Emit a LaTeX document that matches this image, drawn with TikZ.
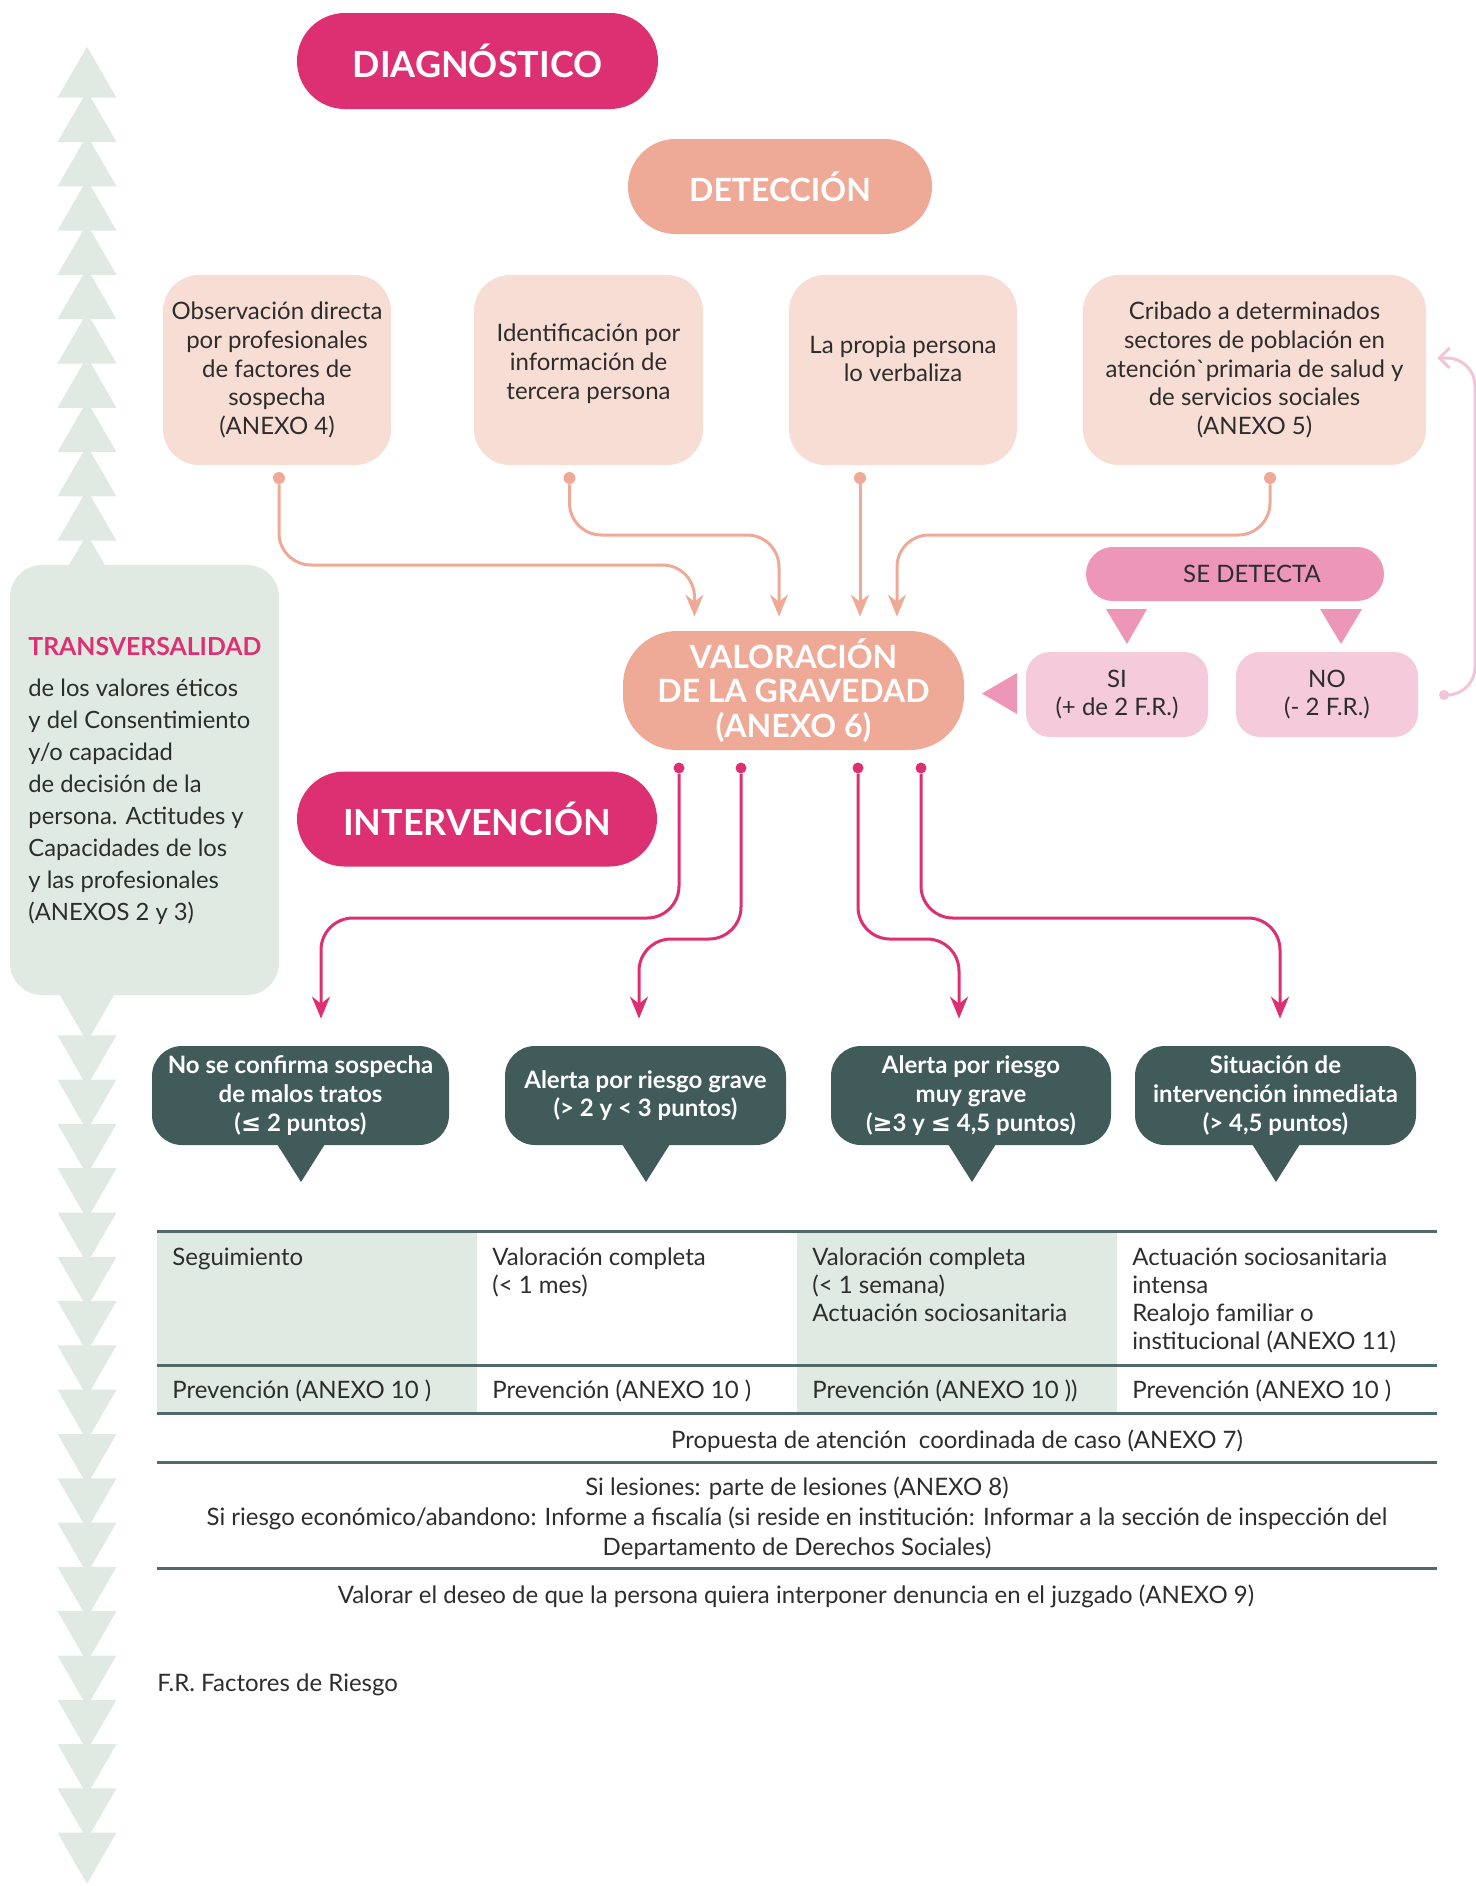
\documentclass[tikz,border=0pt]{standalone}
\usepackage{fontspec}
\setmainfont{Lato}
\newfontfamily\symfont{DejaVu Sans}
\usetikzlibrary{arrows.meta}

\definecolor{diagpink}{RGB}{221,48,114}
\definecolor{salmon}{RGB}{239,170,151}
\definecolor{salmonlight}{RGB}{248,221,213}
\definecolor{pinkmid}{RGB}{237,150,184}
\definecolor{pinklight}{RGB}{245,202,219}
\definecolor{loopcol}{RGB}{243,196,215}
\definecolor{tealdark}{RGB}{65,90,90}
\definecolor{mint}{RGB}{224,234,227}
\definecolor{rulecol}{RGB}{80,106,106}
\definecolor{txt}{RGB}{45,45,45}

\def\bodyfont{\fontsize{12}{14.35}\selectfont}

\begin{document}
\begin{tikzpicture}[x=0.5pt,y=-0.5pt,text=txt,font=\bodyfont]
    \tikzstyle{pill}=[inner sep=0pt,text=white,font=\bfseries\fontsize{18}{20}\selectfont]
    \tikzstyle{detbox}=[fill=salmonlight,rounded corners=18pt,minimum height=95pt,inner sep=0pt,align=center]
    \tikzstyle{sibox}=[fill=pinklight,rounded corners=12pt,minimum width=91pt,minimum height=42.5pt,inner sep=0pt,align=center]
    \tikzstyle{alertbox}=[fill=tealdark,rounded corners=15pt,minimum height=49.5pt,inner sep=0pt,align=center,text=white,font=\bfseries\fontsize{12}{14.3}\selectfont]
    \tikzstyle{odot}=[circle,fill=salmon,minimum size=6pt,inner sep=0pt]
    \tikzstyle{mdot}=[circle,fill=diagpink,minimum size=5.5pt,inner sep=0pt]
    \tikzstyle{oarrow}=[draw=salmon,line width=1.5pt,rounded corners=16pt,-{Stealth[length=11pt,width=9pt]},shorten >=7pt]
    \tikzstyle{marrow}=[draw=diagpink,line width=1.5pt,rounded corners=16pt,-{Stealth[length=11pt,width=9pt]},shorten >=13.5pt]
    \tikzstyle{cell}=[anchor=base west,align=left,inner sep=0pt,font=\fontsize{12}{14}\selectfont]

    \useasboundingbox (0,0) rectangle (1476,1886);

    % triangles of the left column
    \foreach \k in {0,...,11}
        \fill[mint] (57.5,{97.7+44.3*\k}) -- (87,{46.7+44.3*\k}) -- (116.5,{97.7+44.3*\k}) -- cycle;
    \foreach \k in {0,...,19}
        \fill[mint] (57.5,{991+44.3*\k}) -- (87,{1042+44.3*\k}) -- (116.5,{991+44.3*\k}) -- cycle;

    % base anchor of a node of several lines = baseline of its last line
    \node[fill=mint,rounded corners=16pt,minimum width=134.5pt,minimum height=215pt,inner sep=0pt] (trans) at (144.5,780) {};
    \node[anchor=base west,align=left,inner sep=0pt,font=\fontsize{11.9}{16}\selectfont] (transtxt) at (28,920)
        {{\color{diagpink}\bfseries\fontsize{12.4}{16}\selectfont TRANSVERSALIDAD}\\[4.5pt]
         de los valores éticos\\y del Consentimiento\\y/o capacidad\\de decisión de la\\persona. Actitudes y\\Capacidades de los\\y las profesionales\\(ANEXOS 2 y 3)};

    \node[pill,fill=diagpink,minimum width=180.5pt,minimum height=48pt,rounded corners=24pt] (diag) at (477.5,61) {DIAGNÓSTICO};
    \node[pill,fill=salmon,minimum width=152pt,minimum height=47.5pt,rounded corners=23.75pt,font=\bfseries\fontsize{16}{18}\selectfont] (det) at (780,186.5) {DETECCIÓN};

    \node[detbox,minimum width=114pt] (b1) at (277,370) {Observación directa\\por profesionales\\de factores de\\sospecha\\(ANEXO 4)};
    \node[detbox,minimum width=114.5pt] (b2) at (588.5,370) {Identificación por\\información de\\tercera persona\\[-6pt]\mbox{}};
    \node[detbox,minimum width=114pt] (b3) at (903,370) {La propia persona\\lo verbaliza\\[-3pt]\mbox{}};
    \node[detbox,minimum width=171.5pt] (b4) at (1254.5,370) {Cribado a determinados\\sectores de población en\\atención\textasciigrave primaria de salud y\\de servicios sociales\\(ANEXO 5)};

    \node[pill,fill=salmon,minimum width=170.5pt,minimum height=59.5pt,rounded corners=27pt,align=center,font=\bfseries\fontsize{16}{17.2}\selectfont] (val) at (793.5,690.5) {VALORACIÓN\\DE LA GRAVEDAD\\(ANEXO 6)};

    \node[fill=pinkmid,rounded corners=13.5pt,minimum width=149pt,minimum height=27pt,inner sep=0pt] (sed) at (1235,574) {\hspace*{17pt}SE DETECTA};
    \node[sibox] (si) at (1117,694.5) {SI\\(+ de 2 F.R.)};
    \node[sibox] (no) at (1327,694.5) {NO\\(- 2 F.R.)};
    \fill[pinkmid] (1106,609) -- (1147,609) -- (1127,644) -- cycle;
    \fill[pinkmid] (1320,609) -- (1362,609) -- (1341,644) -- cycle;
    \fill[pinkmid] (1017,673) -- (1017,714) -- (982,693.5) -- cycle;

    \node[pill,fill=diagpink,minimum width=180pt,minimum height=47.5pt,rounded corners=23.75pt] (interv) at (477,819) {INTERVENCIÓN};

    \node[alertbox,minimum width=148.5pt] (a1) at (300.5,1095.5) {No se confirma sospecha\\de malos tratos\\({\symfont ≤} 2 puntos)};
    \node[alertbox,minimum width=140.5pt] (a2) at (645.5,1095.5) {Alerta por riesgo grave\\(> 2 y < 3 puntos)};
    \node[alertbox,minimum width=140pt] (a3) at (971,1095.5) {Alerta por riesgo\\muy grave\\({\symfont ≥}3 y {\symfont ≤} 4,5 puntos)};
    \node[alertbox,minimum width=140.5pt] (a4) at (1275.5,1095.5) {Situación de\\intervención inmediata\\(> 4,5 puntos)};
    \foreach \x in {301,646,972,1276}
        \fill[tealdark] (\x-24,1144) -- (\x+24,1144) -- (\x,1182) -- cycle;

    % connectors
    \node[odot] (o1) at (279,478) {};
    \node[odot] (o2) at (569.5,478) {};
    \node[odot] (o3) at (860,478) {};
    \node[odot] (o4) at (1270,478) {};
    \draw[oarrow] (o1) |- (694.5,565) -- (694.5,0 |- val.north);
    \draw[oarrow] (o2) |- (779,535) -- (779,0 |- val.north);
    \draw[oarrow] (o3) -- (860,0 |- val.north);
    \draw[oarrow] (o4) |- (897,535) -- (897,0 |- val.north);

    \node[circle,fill=loopcol,minimum size=5pt,inner sep=0pt] (lp) at (1444,695) {};
    \draw[draw=loopcol,line width=1.5pt,rounded corners=14pt,-{Straight Barb[length=5pt,width=10pt]},shorten >=5.5pt] (lp) -| (1475,358) -- (b4.east |- 1475,358);

    \node[mdot] (m1) at (679,768) {};
    \node[mdot] (m2) at (741,768) {};
    \node[mdot] (m3) at (858,768) {};
    \node[mdot] (m4) at (921,768) {};
    \draw[marrow] (m1) |- (321,918) -- (321,0 |- a1.north);
    \draw[marrow] (m2) |- (639,939) -- (639,0 |- a2.north);
    \draw[marrow] (m3) |- (959,939) -- (959,0 |- a3.north);
    \draw[marrow] (m4) |- (1280,918) -- (1280,0 |- a4.north);

    % table
    \fill[mint] (157,1231) rectangle (477,1413);
    \fill[mint] (797,1231) rectangle (1117,1413);
    \foreach \yy in {1231,1365,1413,1462,1568}
        \draw[rulecol,line width=1.5pt] (157,\yy) -- (1437,\yy);

    \node[cell] (c11) at (172,1265) {Seguimiento};
    \node[cell] (c12) at (492,1293) {Valoración completa\\(< 1 mes)};
    \node[cell] (c13) at (812,1321) {Valoración completa\\(< 1 semana)\\Actuación sociosanitaria};
    \node[cell] (c14) at (1132,1349) {Actuación sociosanitaria\\intensa\\Realojo familiar o\\institucional (ANEXO 11)};
    \node[cell] (c21) at (172,1398) {Prevención (ANEXO 10 )};
    \node[cell] (c22) at (492,1398) {Prevención (ANEXO 10 )};
    \node[cell] (c23) at (812,1398) {Prevención (ANEXO 10 ))};
    \node[cell] (c24) at (1132,1398) {Prevención (ANEXO 10 )};

    \node[anchor=base,inner sep=0pt] (prop) at (957,1448) {Propuesta de atención \ coordinada de caso (ANEXO 7)};
    \node[anchor=base,align=center,inner sep=0pt,font=\fontsize{12}{15}\selectfont] (les) at (797,1555)
        {Si lesiones: parte de lesiones (ANEXO 8)\\Si riesgo económico/abandono: Informe a fiscalía (si reside en institución: Informar a la sección de inspección del\\Departamento de Derechos Sociales)};
    \node[anchor=base,inner sep=0pt] (denun) at (796,1603) {Valorar el deseo de que la persona quiera interponer denuncia en el juzgado (ANEXO 9)};

    \node[anchor=base west,inner sep=0pt] (fr) at (157,1691) {F.R. Factores de Riesgo};
\end{tikzpicture}
\end{document}
